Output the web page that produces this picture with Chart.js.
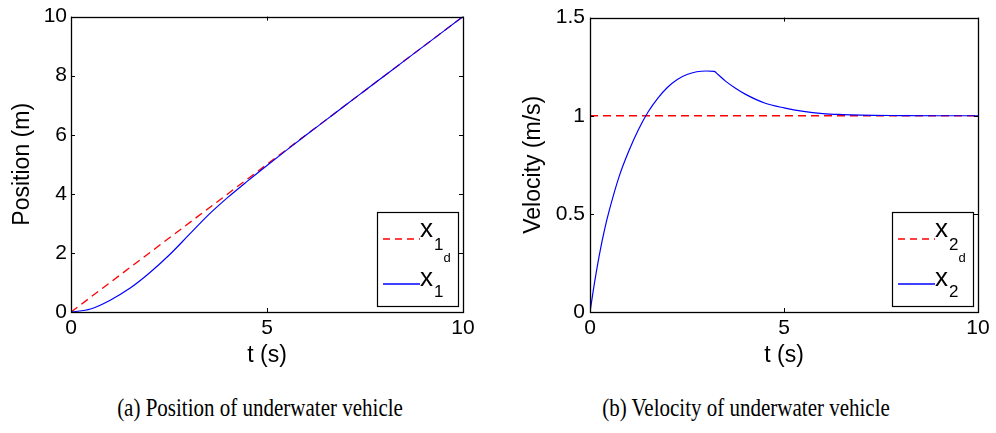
<!DOCTYPE html>
<html><head><meta charset="utf-8">
<script src="https://cdn.jsdelivr.net/npm/chart.js@4"></script>
<style>
html,body{margin:0;padding:0;background:#fff;width:996px;height:433px;overflow:hidden}
.wrap{position:absolute;top:0;height:380px}
#w1{left:0;width:500px}
#w2{left:500px;width:496px}
.cap{position:absolute;top:395px;font-family:"Liberation Serif","Times New Roman",serif;font-size:25px;line-height:1;color:#000;white-space:nowrap;transform:translateX(-50%) scaleX(0.84);transform-origin:50% 50%}
</style></head><body>
<div class="wrap" id="w1"><canvas id="c1" width="500" height="380"></canvas></div>
<div class="wrap" id="w2"><canvas id="c2" width="496" height="380"></canvas></div>
<div class="cap" style="left:260px">(a) Position of underwater vehicle</div>
<div class="cap" style="left:746px">(b) Velocity of underwater vehicle</div>
<script>
// ---- data ----
const tPos = [0,0.5,1,1.5,2,2.5,3,3.5,4,4.5,5,5.5,6,6.5,7,7.5,8,9,10];
const x1   = [0,0.1,0.4,0.8,1.32,1.92,2.6,3.28,3.88,4.43,4.96,5.48,5.99,6.495,7,7.5,8,9,10];
const tPosRef = [0,10];
const x1d     = [0,10];

const tVel = [0,0.125,0.25,0.375,0.5,0.75,1,1.25,1.5,1.75,2,2.25,2.5,2.75,3,3.2,3.3,3.5,3.75,4,4.5,5,5.5,6,6.5,7,8,9,10];
const x2   = [0,0.16,0.3,0.42,0.52,0.69,0.82,0.93,1.02,1.09,1.145,1.185,1.21,1.224,1.228,1.226,1.21,1.175,1.14,1.11,1.065,1.04,1.022,1.011,1.006,1.003,1.001,1.0,1.0];
const tVelRef = [0,10];
const x2d     = [1,1];

const xTicksStep = 5;
const posTickStep = 2;
const velTickStep = 0.5;

const legendPosMain = ['x','x'];
const legendPosSub  = ['1','1'];
const legendPosSub2 = ['d',''];
const legendVelMain = ['x','x'];
const legendVelSub  = ['2','2'];
const legendVelSub2 = ['d',''];

const RED = '#ff0000', BLUE = '#0000ff';
const tickFont = {family:'"Liberation Sans", Arial, sans-serif', size:21};
const titleFont = {family:'"Liberation Sans", Arial, sans-serif', size:23};

function pts(xs, ys){ return xs.map((x,i)=>({x:x, y:ys[i]})); }
function fmt(v){ return String(+(+v).toFixed(2)); }

const matlabPlugin = {
  id:'matlab',
  afterDatasetsDraw(chart){
    const o = chart.options.plugins.matlab;
    const ctx = chart.ctx, a = chart.chartArea;
    const xs = chart.scales.x, ys = chart.scales.y;
    ctx.save();
    ctx.strokeStyle = '#000'; ctx.lineWidth = 1;
    const tl = 4;
    ctx.beginPath();
    xs.ticks.forEach(t=>{
      const p = Math.round(xs.getPixelForValue(t.value))+0.5;
      ctx.moveTo(p, a.bottom); ctx.lineTo(p, a.bottom - tl);
      ctx.moveTo(p, a.top); ctx.lineTo(p, a.top + tl);
    });
    ys.ticks.forEach(t=>{
      const p = Math.round(ys.getPixelForValue(t.value))+0.5;
      ctx.moveTo(a.left, p); ctx.lineTo(a.left + tl, p);
      ctx.moveTo(a.right, p); ctx.lineTo(a.right - tl, p);
    });
    ctx.stroke();
    ctx.lineWidth = 1.3;
    ctx.strokeRect(Math.round(a.left)+0.5, Math.round(a.top)+0.5, Math.round(a.right-a.left), Math.round(a.bottom-a.top));
    // legend box
    ctx.lineWidth = 1.2;
    const bw = 81, bh = 94;
    const bx = Math.round(a.right) - 5 - bw, by = Math.round(a.bottom) - 6 - bh;
    ctx.fillStyle = '#fff';
    ctx.fillRect(bx, by, bw, bh);
    ctx.strokeRect(bx+0.5, by+0.5, bw, bh);
    const items = o.items;
    const lineYs = [27, 72];
    const mainBase = [25, 74];
    const subBase = [38, 85];
    const colors = [RED, BLUE];
    const dashes = [[7,5], []];
    items.main.forEach((m,i)=>{
      const ly = by + lineYs[i];
      ctx.beginPath();
      ctx.lineWidth = 1.5;
      ctx.strokeStyle = colors[i];
      ctx.setLineDash(dashes[i]);
      ctx.moveTo(bx+6, ly); ctx.lineTo(bx+43, ly);
      ctx.stroke();
      ctx.setLineDash([]);
      ctx.fillStyle = '#000';
      ctx.textAlign = 'left'; ctx.textBaseline = 'alphabetic';
      ctx.font = '26px "Liberation Sans", Arial, sans-serif';
      ctx.fillText(m, bx+43, by+mainBase[i]);
      const mw = ctx.measureText(m).width;
      ctx.font = '17px "Liberation Sans", Arial, sans-serif';
      ctx.fillText(items.sub[i], bx+44+mw, by+subBase[i]);
      const sw = ctx.measureText(items.sub[i]).width;
      if (items.sub2[i]) {
        ctx.font = '13px "Liberation Sans", Arial, sans-serif';
        ctx.fillText(items.sub2[i], bx+44+mw+sw, by+50);
      }
    });
    ctx.restore();
  }
};

function makeChart(id, cfg){
  return new Chart(document.getElementById(id), {
    type:'line',
    data:{datasets:[
      {label:cfg.labels[1], data:pts(cfg.t, cfg.y), borderColor:BLUE, borderWidth:1.2, pointRadius:0, cubicInterpolationMode:'monotone', fill:false},
      {label:cfg.labels[0], data:pts(cfg.tr, cfg.yr), borderColor:RED, borderWidth:1.3, borderDash:[8,5], pointRadius:0, fill:false}
    ]},
    options:{
      responsive:false, animation:false, devicePixelRatio:1,
      layout:{padding:{left:0, top:15, right:cfg.padRight, bottom:0}},
      plugins:{legend:{display:false}, tooltip:{enabled:false},
        matlab:{items:cfg.items}},
      scales:{
        x:{type:'linear', min:0, max:10,
          ticks:{stepSize:xTicksStep, padding:4, font:tickFont, color:'#000', maxRotation:0, autoSkip:false, callback:fmt},
          grid:{display:false, drawTicks:false}, border:{display:false},
          title:{display:true, text:'t (s)', font:titleFont, color:'#000', padding:{top:0,bottom:11}},
          afterFit(s){ s.height = 68; }},
        y:{type:'linear', min:cfg.ymin, max:cfg.ymax,
          ticks:{stepSize:cfg.ystep, padding:cfg.ypad, font:tickFont, color:'#000', autoSkip:false, callback:fmt},
          grid:{display:false, drawTicks:false}, border:{display:false},
          title:{display:true, text:cfg.ytitle, font:titleFont, color:'#000', padding:{top:cfg.ytpad,bottom:0}},
          afterFit(s){ s.width = cfg.yw; }}
      }
    },
    plugins:[matlabPlugin]
  });
}

makeChart('c1', {t:tPos, y:x1, tr:tPosRef, yr:x1d, labels:['x1d','x1'],
  items:{main:legendPosMain, sub:legendPosSub, sub2:legendPosSub2},
  padRight:37, ymin:0, ymax:10, ystep:posTickStep, ypad:4, ytitle:'Position (m)', ytpad:9, yw:71});
makeChart('c2', {t:tVel, y:x2, tr:tVelRef, yr:x2d, labels:['x2d','x2'],
  items:{main:legendVelMain, sub:legendVelSub, sub2:legendVelSub2},
  padRight:18, ymin:0, ymax:1.5, ystep:velTickStep, ypad:5, ytitle:'Velocity (m/s)', ytpad:20, yw:90});
</script>
</body></html>
